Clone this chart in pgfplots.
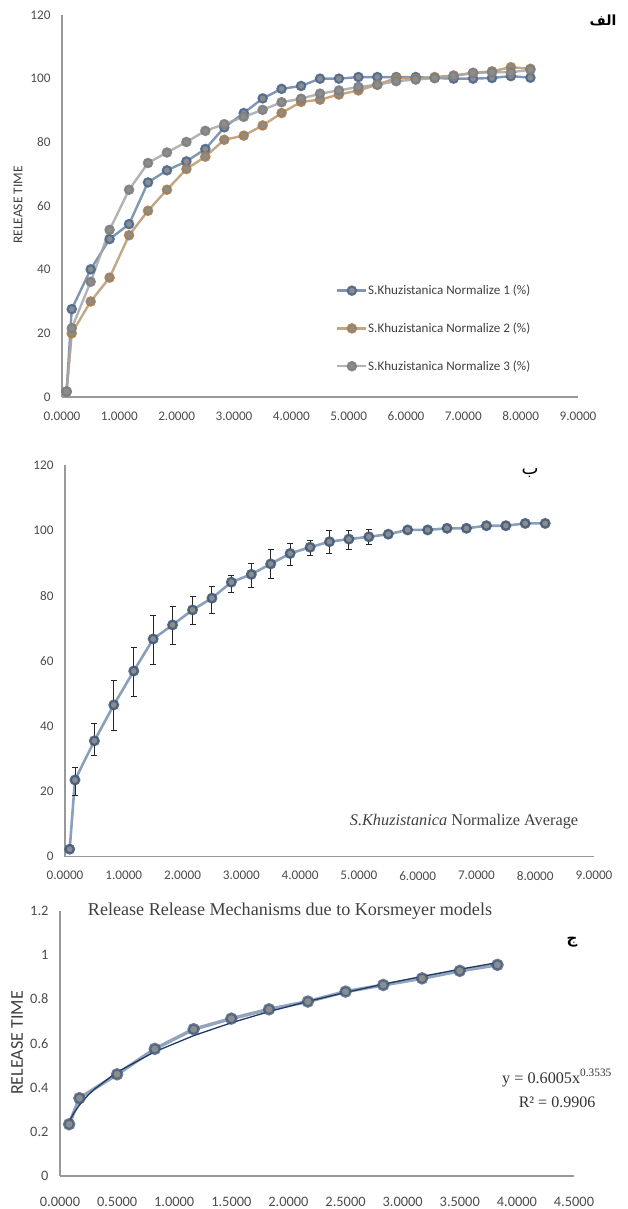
\documentclass[border=0pt]{standalone}
\usepackage{fontspec}
\setmainfont{Carlito}
\newfontfamily\tnr{Liberation Serif}
\newfontfamily\arabicfont[Script=Arabic]{DejaVu Sans}
\usepackage{pgfplots}
\usepackage{pgfplotstable}
\pgfplotsset{compat=1.18}
\TeXXeTstate=1

\definecolor{sA}{HTML}{4A6890}
\definecolor{sAl}{HTML}{6A84A6}
\definecolor{sB}{HTML}{A57E52}
\definecolor{sBl}{HTML}{B8976E}
\definecolor{sC}{HTML}{7F7F7F}
\definecolor{sCl}{HTML}{A6A6A6}
\definecolor{mfill}{HTML}{8C8C8C}
\definecolor{avgR}{HTML}{3A5579}
\definecolor{avgL}{HTML}{7F95B0}
\definecolor{navy}{HTML}{1F3864}

\pgfplotstableread{
x     s1     s2     s3
0.08  1.7    1.7    1.7
0.17  27.6   20.0   21.6
0.50  40.1   30.0   36.2
0.83  49.6   37.5   52.5
1.17  54.3   50.8   65.1
1.50  67.4   58.5   73.5
1.83  71.2   65.1   76.8
2.17  74.0   71.6   80.1
2.50  77.9   75.5   83.6
2.83  84.7   80.8   85.7
3.17  89.2   82.1   88.0
3.50  93.8   85.3   90.2
3.83  96.8   89.2   92.6
4.17  97.7   92.7   93.7
4.50  100.0  93.4   95.3
4.83  100.0  95.0   96.3
5.17  100.5  96.3   97.4
5.50  100.5  98.1   98.1
5.83  100.5  100.2  99.2
6.17  100.5  100.0  99.7
6.50  100.2  100.5  100.2
6.83  100.0  101.0  100.8
7.17  100.0  101.8  101.8
7.50  100.2  102.3  102.0
7.83  100.8  103.6  102.0
8.17  100.3  103.1  102.8
}\tabA

\pgfplotstableread{
x     y      ep    em
0.08  2.3    0.3   0.3
0.17  23.5   3.9   4.6
0.50  35.5   5.2   4.6
0.83  46.5   7.6   7.9
1.17  56.9   7.1   7.9
1.50  66.7   7.3   7.8
1.83  71.0   5.8   5.9
2.17  75.6   4.1   4.4
2.50  79.2   3.7   4.7
2.83  84.1   2.1   3.1
3.17  86.5   3.4   4.1
3.50  89.7   4.5   4.4
3.83  92.9   3.2   3.8
4.17  94.8   2.2   2.5
4.50  96.5   3.4   3.6
4.83  97.3   2.6   3.1
5.17  98.0   2.3   2.3
5.50  98.8   0.5   0.5
5.83  100.1  0.3   0.3
6.17  100.1  0.3   0.3
6.50  100.6  0.3   0.3
6.83  100.6  0.3   0.3
7.17  101.4  0.3   0.3
7.50  101.4  0.3   0.3
7.83  102.1  0.3   0.3
8.17  102.1  0.3   0.3
}\tabB

\pgfplotstableread{
x     y
0.08  0.234
0.17  0.352
0.50  0.460
0.83  0.575
1.17  0.664
1.50  0.712
1.83  0.754
2.17  0.789
2.50  0.834
2.83  0.864
3.17  0.894
3.50  0.928
3.83  0.955
}\tabC

\pgfplotstableread{
x     y
0.08  0.2459
0.12  0.2838
0.17  0.3210
0.25  0.3679
0.30  0.3924
0.50  0.4700
0.83  0.5622
1.17  0.6348
1.50  0.6930
1.83  0.7436
2.17  0.7897
2.50  0.8302
2.83  0.8674
3.17  0.9029
3.50  0.9351
3.83  0.9653
}\tabFit

\pgfplotsset{
  excel/.style={
    scale only axis,
    axis x line*=bottom, axis y line*=left,
    axis line style={draw=black!40, line width=1.1pt},
    major tick length=0pt,
    tick label style={font=\fontsize{13.2}{13.2}\selectfont, text=black!70},
    yticklabel style={xshift=-8pt},
    xticklabel style={yshift=-11pt},
    /pgf/number format/assume math mode=true,
    clip=false,
  },
  ser/.style 2 args={line width=2.4pt, draw=#2, draw opacity=0.85,
    mark=*, mark size=4.2pt,
    mark options={line width=2.1pt, draw=#1, fill=mfill, draw opacity=0.9, solid}},
}

\begin{document}
\begin{tikzpicture}
\useasboundingbox (0,0) rectangle (627pt,1209pt);

% ---------- top chart ----------
\begin{axis}[excel,
  at={(62pt,812pt)}, anchor=south west,
  width=516pt, height=382pt,
  xmin=0, xmax=9, ymin=0, ymax=120,
  xtick={0,1,...,9},
  xticklabels={0.0000,1.0000,2.0000,3.0000,4.0000,5.0000,6.0000,7.0000,8.0000,9.0000},
  ytick={0,20,...,120},
  yticklabels={0,20,40,60,80,100,120},
  legend style={at={(0.531,0.295)}, anchor=north west, draw=none, fill=none,
    font=\fontsize{13.1}{13.1}\selectfont, text=black!75, row sep=25.5pt,
    inner sep=0pt, nodes={inner sep=0.6pt}},
  legend cell align=left,
  legend image code/.code={\draw[mark repeat=2,mark phase=2,#1] plot coordinates {(0pt,0pt) (14.5pt,0pt) (29pt,0pt)};},
]
\addplot[ser={sA}{sAl}] table[x=x,y=s1] {\tabA};
\addlegendentry{S.Khuzistanica Normalize 1 (\%)}
\addplot[ser={sB}{sBl}] table[x=x,y=s2] {\tabA};
\addlegendentry{S.Khuzistanica Normalize 2 (\%)}
\addplot[ser={sC}{sCl}] table[x=x,y=s3] {\tabA};
\addlegendentry{S.Khuzistanica Normalize 3 (\%)}
\end{axis}
\node[rotate=90, font=\fontsize{13.5}{13.5}\selectfont, text=black!75] at (18pt,1004pt) {RELEASE TIME};
\node[font=\fontsize{14}{14}\selectfont\bfseries] at (603pt,1189pt) {\arabicfont\beginR الف\endR};

% ---------- middle chart ----------
\begin{axis}[excel,
  at={(65pt,352.3pt)}, anchor=south west,
  width=529pt, height=391.7pt,
  xmin=0, xmax=9, ymin=0, ymax=120,
  xtick={0,1,...,9},
  xticklabels={0.0000,1.0000,2.0000,3.0000,4.0000,5.0000,6.0000,7.0000,8.0000,9.0000},
  ytick={0,20,...,120},
  yticklabels={0,20,40,60,80,100,120},
]
\addplot[line width=2.6pt, draw=avgL, draw opacity=0.9,
  mark=*, mark size=4.3pt,
  mark options={line width=2.3pt, draw=avgR, fill=mfill, draw opacity=0.85, solid},
  error bars/.cd, y dir=both, y explicit,
  error bar style={draw=black!85, line width=0.9pt, draw opacity=1},
  error mark options={rotate=90, mark size=3pt, line width=0.9pt, draw=black!85}]
  table[x=x, y=y, y error plus=ep, y error minus=em] {\tabB};
\end{axis}
\node[font=\fontsize{18}{18}\selectfont] at (530pt,736pt) {\arabicfont\beginR ب\endR};
\node[font=\tnr\fontsize{16.3}{16.3}\selectfont, text=black!75] at (464pt,387pt) {\textit{S.Khuzistanica} Normalize Average};

% ---------- bottom chart ----------
\begin{axis}[excel,
  at={(60pt,33pt)}, anchor=south west,
  width=514pt, height=265.3pt,
  xmin=0, xmax=4.5, ymin=0, ymax=1.2,
  xtick={0,0.5,...,4.5},
  xticklabels={0.0000,0.5000,1.0000,1.5000,2.0000,2.5000,3.0000,3.5000,4.0000,4.5000},
  ytick={0,0.2,...,1.2},
  yticklabels={0,0.2,0.4,0.6,0.8,1,1.2},
  tick label style={font=\fontsize{14.4}{14.4}\selectfont, text=black!70},
  xticklabel style={yshift=-7pt},
]
\addplot[line width=3.5pt, draw=avgL, draw opacity=0.85,
    mark=*, mark size=5pt,
    mark options={line width=2.5pt, draw=avgR, fill=mfill, draw opacity=0.75, solid}]
  table[x=x,y=y] {\tabC};
\addplot[line width=1.3pt, draw=navy, mark=none] table[x=x,y=y] {\tabFit};
\end{axis}
\node[font=\tnr\fontsize{18.1}{18.1}\selectfont, text=black!75] at (290pt,298pt) {Release Release Mechanisms due to Korsmeyer models};
\node[font=\fontsize{15}{15}\selectfont\bfseries] at (572pt,267pt) {\arabicfont\beginR ج\endR};
\node[font=\tnr\fontsize{16.2}{16.2}\selectfont, text=black!80] at (557pt,131pt) {y = 0.6005x\textsuperscript{0.3535}};
\node[font=\tnr\fontsize{16}{16}\selectfont, text=black!80] at (557pt,107pt) {R² = 0.9906};
\node[rotate=90, font=\fontsize{18}{18}\selectfont, text=black!75] at (17pt,166pt) {RELEASE TIME};
\end{tikzpicture}
\end{document}
